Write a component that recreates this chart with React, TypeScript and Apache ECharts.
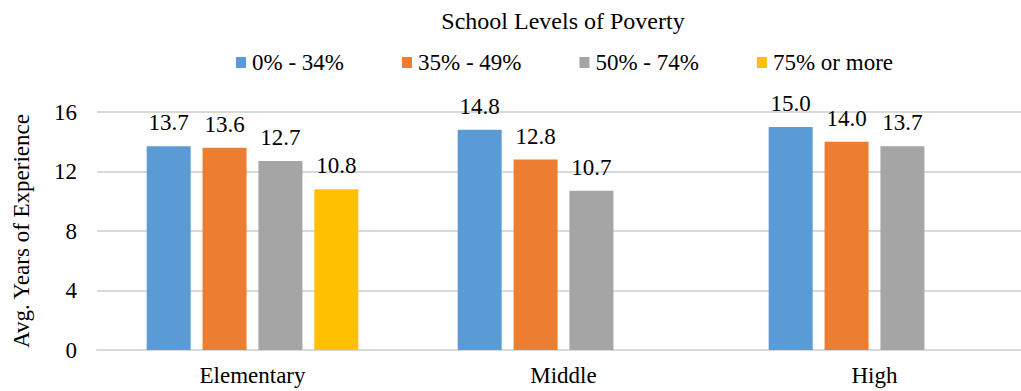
import React, { useEffect, useRef } from "react";
import * as echarts from "echarts";

const categories = ["Elementary", "Middle", "High"];
const seriesNames = ["0% - 34%", "35% - 49%", "50% - 74%", "75% or more"];
const values0to34 = [13.7, 14.8, 15.0];
const values35to49 = [13.6, 12.8, 14.0];
const values50to74 = [12.7, 10.7, 13.7];
const values75plus: (number | null)[] = [10.8, null, null];
const colors = ["#5B9BD5", "#ED7D31", "#A5A5A5", "#FFC000"];
const yTicks = [0, 4, 8, 12, 16];

const FONT = "Liberation Serif";

export default function App() {
  const ref = useRef<HTMLDivElement>(null);
  useEffect(() => {
    if (!ref.current) return;
    const chart = echarts.init(ref.current, undefined, { renderer: "svg" });
    const all = [values0to34, values35to49, values50to74, values75plus];
    const txt = {
      fontFamily: FONT,
      fontSize: 23,
      fontWeight: "normal" as const,
      fontStyle: "normal" as const,
      color: "#000",
    };
    chart.setOption({
      animation: false,
      textStyle: { fontFamily: FONT, fontSize: 23 },
      title: {
        text: "School Levels of Poverty",
        left: 558,
        textAlign: "center",
        top: 4,
        textStyle: { ...txt, fontSize: 24 },
      },
      legend: {
        data: seriesNames,
        left: 236,
        top: 51,
        padding: 0,
        itemWidth: 10,
        itemHeight: 11,
        itemGap: 58,
        icon: "rect",
        textStyle: { ...txt, padding: [0, 0, 0, 1] },
      },
      grid: {
        left: 97,
        right: -9,
        top: 112,
        bottom: 41,
        containLabel: false,
        outerBoundsMode: "none",
      },
      xAxis: {
        type: "category",
        data: categories,
        axisTick: { show: false },
        axisLine: { lineStyle: { color: "#d9d9d9", width: 2 } },
        axisLabel: { ...txt, margin: 14 },
      },
      yAxis: {
        type: "value",
        min: yTicks[0],
        max: yTicks[yTicks.length - 1],
        interval: 4,
        name: "Avg. Years of Experience",
        nameLocation: "middle",
        nameGap: 64,
        nameTextStyle: { ...txt },
        axisLabel: { ...txt, margin: 20 },
        splitLine: { lineStyle: { color: "#d9d9d9", width: 2 } },
        axisLine: { show: false },
        axisTick: { show: false },
      },
      series: seriesNames.map((name, i) => ({
        name,
        type: "bar",
        data: all[i],
        barWidth: 44,
        barGap: "27%",
        itemStyle: { color: colors[i] },
        label: {
          show: true,
          position: "top",
          distance: 12,
          ...txt,
          formatter: (p: any) => Number(p.value).toFixed(1),
        },
      })),
    });
    return () => chart.dispose();
  }, []);
  return (
    <div
      ref={ref}
      style={{ position: "fixed", left: 0, top: 0, width: 1021, height: 391, background: "#fff" }}
    />
  );
}
